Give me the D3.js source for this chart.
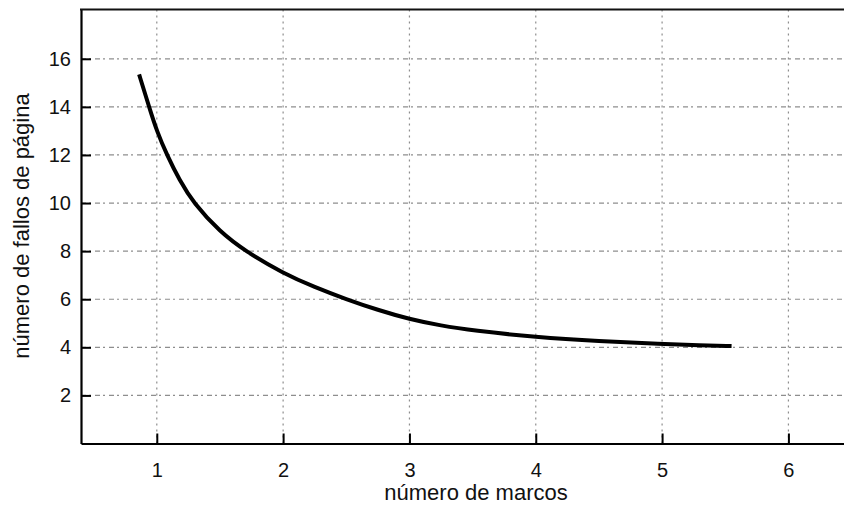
<!DOCTYPE html>
<html>
<head>
<meta charset="utf-8">
<script src="https://cdn.jsdelivr.net/npm/d3@7"></script>
<style>
  html, body { margin: 0; padding: 0; background: #fff; }
  svg { display: block; }
</style>
</head>
<body>
<svg id="chart" width="844" height="513"></svg>
<script>
// ---- data ----
const framesX = [0.86, 0.945, 1.0, 1.08, 1.18, 1.29, 1.5, 1.7, 2.0, 2.25, 2.5, 2.75, 3.0, 3.25, 3.5, 4.0, 4.5, 5.0, 5.3, 5.55];
const faultsY = [15.35, 13.9, 13.0, 12.0, 10.95, 10.0, 8.8, 8.0, 7.08, 6.5, 6.0, 5.55, 5.17, 4.9, 4.7, 4.42, 4.25, 4.14, 4.08, 4.05];
const xTicks = [1, 2, 3, 4, 5, 6];
const yTicks = [2, 4, 6, 8, 10, 12, 14, 16];
const xTitle = "número de marcos";
const yTitle = "número de fallos de página";

const W = 844, H = 513;
const margin = { left: 81, top: 9.5, right: 0, bottom: 69.5 };
const svg = d3.select("#chart");

const x = d3.scaleLinear().domain([0.40, 6.44]).range([margin.left, W - margin.right]);
const y = d3.scaleLinear().domain([0, 18.05]).range([H - margin.bottom, margin.top]);

const font = "'Liberation Sans', Arial, Helvetica, sans-serif";

// grid
const grid = svg.append("g").attr("class", "grid");
grid.selectAll("line.h").data(yTicks).join("line")
  .attr("class", "h")
  .attr("x1", x.range()[0]).attr("x2", x.range()[1])
  .attr("y1", d => y(d)).attr("y2", d => y(d))
  .attr("stroke", "#333").attr("stroke-width", 1.2)
  .attr("stroke-dasharray", "5,3,2,4").attr("opacity", 0.55);
grid.selectAll("line.v").data(xTicks).join("line")
  .attr("class", "v")
  .attr("y1", y.range()[0]).attr("y2", y.range()[1])
  .attr("x1", d => x(d)).attr("x2", d => x(d))
  .attr("stroke", "#333").attr("stroke-width", 1.2)
  .attr("stroke-dasharray", "2,4").attr("opacity", 0.55);

// curve
const pts = framesX.map((v, i) => [v, faultsY[i]]);
svg.append("path")
  .datum(pts)
  .attr("fill", "none")
  .attr("stroke", "#000")
  .attr("stroke-width", 4)
  .attr("stroke-linecap", "butt")
  .attr("d", d3.line().x(d => x(d[0])).y(d => y(d[1])).curve(d3.curveBasis));

// axes
const xAxis = svg.append("g")
  .attr("transform", `translate(0,${y(0)})`)
  .call(d3.axisBottom(x).tickValues(xTicks).tickFormat(d3.format("d"))
    .tickSizeInner(-10).tickSizeOuter(0).tickPadding(19));
const yAxis = svg.append("g")
  .attr("transform", `translate(${x.range()[0]},0)`)
  .call(d3.axisLeft(y).tickValues(yTicks).tickFormat(d3.format("d"))
    .tickSizeInner(-10).tickSizeOuter(0).tickPadding(10));

[xAxis, yAxis].forEach(a => {
  a.select(".domain").attr("stroke", "#000").attr("stroke-width", 2.2);
  a.selectAll(".tick line").attr("stroke", "#000").attr("stroke-width", 2);
  a.selectAll(".tick text").attr("font-family", font).attr("font-size", 20).attr("fill", "#111");
});

// top border
svg.append("line")
  .attr("x1", x.range()[0] - 1).attr("x2", W)
  .attr("y1", y.range()[1]).attr("y2", y.range()[1])
  .attr("stroke", "#111").attr("stroke-width", 2);

// titles
svg.append("text")
  .attr("x", 476).attr("y", 500)
  .attr("text-anchor", "middle")
  .attr("font-family", font).attr("font-size", 22).attr("fill", "#111")
  .text(xTitle);
svg.append("text")
  .attr("transform", `translate(29,226) rotate(-90)`)
  .attr("text-anchor", "middle")
  .attr("font-family", font).attr("font-size", 22).attr("fill", "#111")
  .text(yTitle);
</script>
</body>
</html>
